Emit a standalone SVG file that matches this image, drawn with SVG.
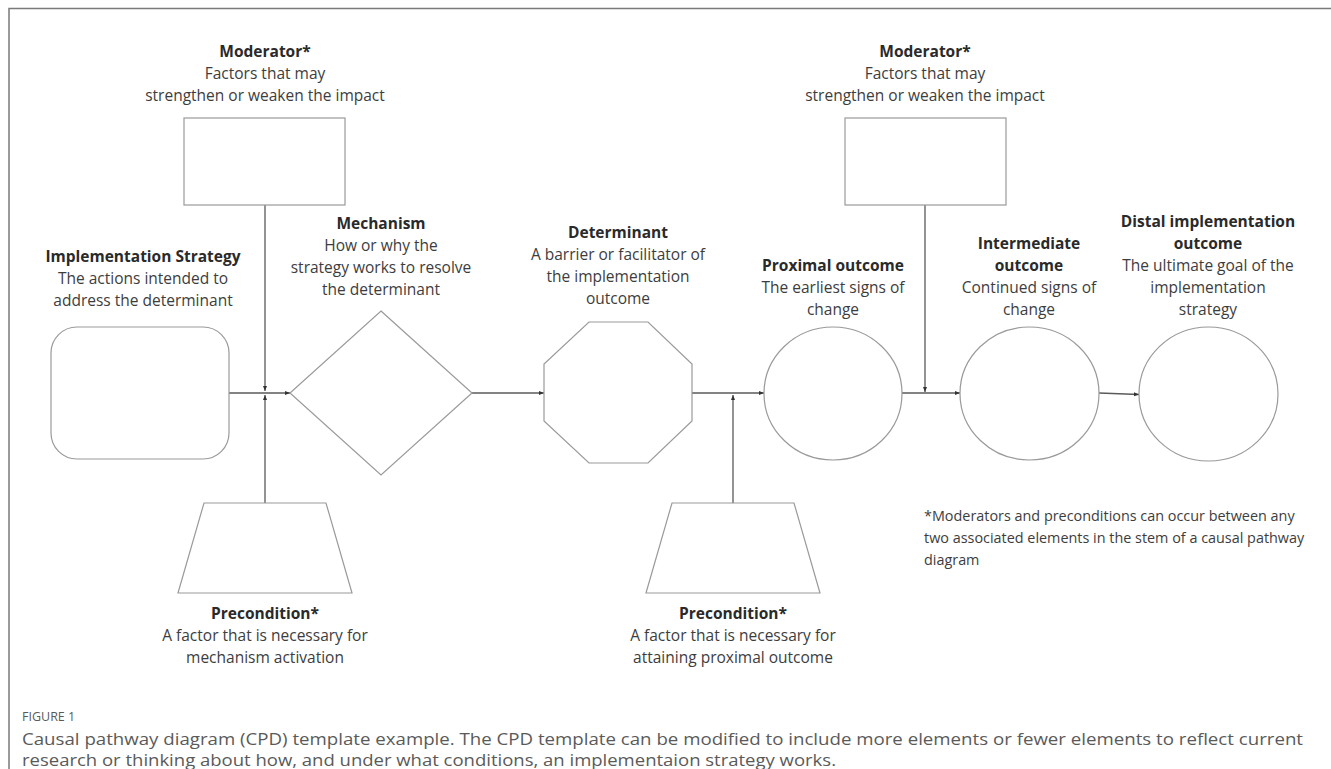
<svg xmlns="http://www.w3.org/2000/svg" width="1331" height="769" viewBox="0 0 1331 769">
<style>
.lbl{font-family:"Open Sans","Noto Sans","DejaVu Sans",sans-serif;font-size:15.5px;fill:#3d3d3d;text-anchor:middle}
.b{font-weight:bold;fill:#2a2a2a}
.fn{font-family:"Open Sans","Noto Sans","DejaVu Sans",sans-serif;font-size:14.4px;fill:#3d3d3d}
.shape{fill:#fff;stroke:#9a9a9a;stroke-width:1.2}
.conn{stroke:#5a5a5a;stroke-width:1.3;fill:none}
.cap{font-family:"Open Sans","Noto Sans","DejaVu Sans",sans-serif;fill:#5a5a5a}
</style>
<defs>
<marker id="arr" viewBox="0 0 10 10" refX="10" refY="5" markerWidth="5" markerHeight="5" orient="auto" markerUnits="userSpaceOnUse">
<path d="M0,1 L10,5 L0,9 Z" fill="#333"/>
</marker>
</defs>
<rect width="1331" height="769" fill="#fff"/>
<path d="M9,769 V8.5 H1331" fill="none" stroke="#7a7a7a" stroke-width="1.5"/>

<g id="connectors">
<line class="conn" x1="229" y1="393" x2="290" y2="393" marker-end="url(#arr)"/>
<line class="conn" x1="265" y1="205" x2="265" y2="391" marker-end="url(#arr)"/>
<line class="conn" x1="265" y1="503" x2="265" y2="395" marker-end="url(#arr)"/>
<line class="conn" x1="472" y1="393" x2="544" y2="393" marker-end="url(#arr)"/>
<line class="conn" x1="692" y1="393" x2="764" y2="393" marker-end="url(#arr)"/>
<line class="conn" x1="733" y1="503" x2="733" y2="395" marker-end="url(#arr)"/>
<line class="conn" x1="902" y1="393" x2="960" y2="393" marker-end="url(#arr)"/>
<line class="conn" x1="925" y1="205" x2="925" y2="392" marker-end="url(#arr)"/>
<line class="conn" x1="1099" y1="393" x2="1139" y2="394.5" marker-end="url(#arr)"/>
</g>

<g id="moderator1">
<rect class="shape" x="184" y="118" width="161" height="87"/>
<text class="lbl b" x="265" y="57">Moderator*</text>
<text class="lbl" x="265" y="79">Factors that may</text>
<text class="lbl" x="265" y="101">strengthen or weaken the impact</text>
</g>

<g id="moderator2">
<rect class="shape" x="845" y="118" width="161" height="87"/>
<text class="lbl b" x="925" y="57">Moderator*</text>
<text class="lbl" x="925" y="79">Factors that may</text>
<text class="lbl" x="925" y="101">strengthen or weaken the impact</text>
</g>

<g id="strategy">
<rect class="shape" x="51" y="327" width="178" height="132" rx="26" ry="26"/>
<text class="lbl b" x="143" y="262">Implementation Strategy</text>
<text class="lbl" x="143" y="284">The actions intended to</text>
<text class="lbl" x="143" y="306">address the determinant</text>
</g>

<g id="mechanism">
<polygon class="shape" points="381,311 472,393 381,475 290,393"/>
<text class="lbl b" x="381" y="229">Mechanism</text>
<text class="lbl" x="381" y="251">How or why the</text>
<text class="lbl" x="381" y="273">strategy works to resolve</text>
<text class="lbl" x="381" y="295">the determinant</text>
</g>

<g id="determinant">
<polygon class="shape" points="589,322 648,322 692,364 692,421 648,463 589,463 544,421 544,364"/>
<text class="lbl b" x="618" y="238">Determinant</text>
<text class="lbl" x="618" y="260">A barrier or facilitator of</text>
<text class="lbl" x="618" y="282">the implementation</text>
<text class="lbl" x="618" y="304">outcome</text>
</g>

<g id="proximal">
<ellipse class="shape" cx="833" cy="393.5" rx="69" ry="66.5"/>
<text class="lbl b" x="833" y="271">Proximal outcome</text>
<text class="lbl" x="833" y="293">The earliest signs of</text>
<text class="lbl" x="833" y="315">change</text>
</g>

<g id="intermediate">
<ellipse class="shape" cx="1029.5" cy="393.5" rx="69.5" ry="66.5"/>
<text class="lbl b" x="1029" y="249">Intermediate</text>
<text class="lbl b" x="1029" y="271">outcome</text>
<text class="lbl" x="1029" y="293">Continued signs of</text>
<text class="lbl" x="1029" y="315">change</text>
</g>

<g id="distal">
<ellipse class="shape" cx="1208.5" cy="394" rx="69.5" ry="67"/>
<text class="lbl b" x="1208" y="227">Distal implementation</text>
<text class="lbl b" x="1208" y="249">outcome</text>
<text class="lbl" x="1208" y="271">The ultimate goal of the</text>
<text class="lbl" x="1208" y="293">implementation</text>
<text class="lbl" x="1208" y="315">strategy</text>
</g>

<g id="precondition1">
<polygon class="shape" points="204,503 326,503 352,593 178,593"/>
<text class="lbl b" x="265" y="619">Precondition*</text>
<text class="lbl" x="265" y="641">A factor that is necessary for</text>
<text class="lbl" x="265" y="663">mechanism activation</text>
</g>

<g id="precondition2">
<polygon class="shape" points="672,503 794,503 820,593 646,593"/>
<text class="lbl b" x="733" y="619">Precondition*</text>
<text class="lbl" x="733" y="641">A factor that is necessary for</text>
<text class="lbl" x="733" y="663">attaining proximal outcome</text>
</g>

<g id="footnote">
<text class="fn" x="924" y="521">*Moderators and preconditions can occur between any</text>
<text class="fn" x="924" y="543">two associated elements in the stem of a causal pathway</text>
<text class="fn" x="924" y="565">diagram</text>
</g>

<g id="caption">
<text class="cap" x="22" y="721" font-size="12.5">FIGURE 1</text>
<text class="cap" x="22" y="745" font-size="16" textLength="1281" lengthAdjust="spacingAndGlyphs">Causal pathway diagram (CPD) template example. The CPD template can be modified to include more elements or fewer elements to reflect current</text>
<text class="cap" x="22" y="766" font-size="16" textLength="814" lengthAdjust="spacingAndGlyphs">research or thinking about how, and under what conditions, an implementaion strategy works.</text>
</g>
</svg>
